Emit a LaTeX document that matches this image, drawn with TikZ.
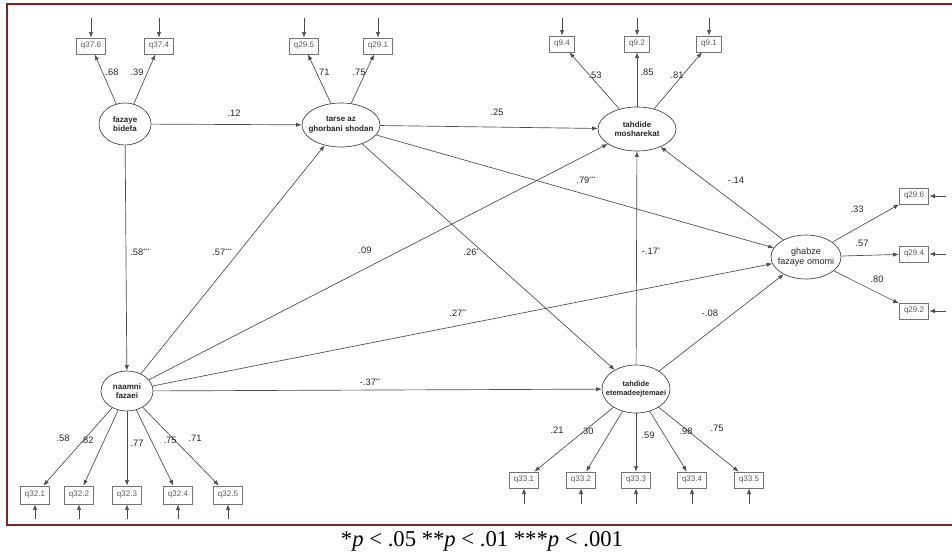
\documentclass[tikz,border=0pt]{standalone}
\usepackage{fontspec}
\setmainfont{Liberation Sans}
\newfontfamily\capfont{Liberation Serif}
\usetikzlibrary{shapes.geometric,arrows.meta}
\newcommand\sgstar[1]{\raisebox{2.6pt}{\fontsize{4}{4}\selectfont#1}}
\begin{document}
\begin{tikzpicture}[x=0.75pt,y=-0.75pt,
 lat/.style={ellipse,draw=black!75,line width=0.5pt,inner sep=0pt},
 lattext/.style={font=\fontsize{6}{7.2}\selectfont\bfseries,align=center,text=black!85},
 obs/.style={rectangle,draw=black!55,line width=0.6pt,inner xsep=3.6pt,inner ysep=0pt,minimum height=12pt,font=\fontsize{6}{7}\selectfont,text=black!65},
 arr/.style={draw=black!70,line width=0.5pt,-{Latex[length=4.2pt,width=3.2pt]}},
 errarr/.style={draw=black!70,line width=0.5pt,-{Latex[length=4.2pt,width=3.2pt]}},
 coef/.style={font=\fontsize{7}{8}\selectfont,text=black!85,inner sep=0pt},
]
\useasboundingbox (0,0) rectangle (952,553);
\fill[white] (0,0) rectangle (952,553);
% frame
\draw[line width=1.8pt,color={rgb,255:red,120;green,38;blue,38}] (953,4) -- (7,4) -- (7,525) -- (953,525);

% latent variables
\node[lat,minimum width=39pt,minimum height=31.5pt,label={[lattext]center:fazaye\\bidefa}] (fb) at (125,124) {};
\node[lat,minimum width=58.5pt,minimum height=33pt,label={[lattext]center:tarse az\\ghorbani shodan}] (tg) at (341,125) {};
\node[lat,minimum width=58.5pt,minimum height=33pt,label={[lattext]center:tahdide\\mosharekat}] (tm) at (637,129) {};
\node[lat,minimum width=52.5pt,minimum height=33pt,label={[lattext,font=\fontsize{6.8}{8}\selectfont]center:ghabze\\fazaye omomi}] (gf) at (806,257) {};
\node[lat,minimum width=39pt,minimum height=30pt,label={[lattext]center:naamni\\fazaei}] (nf) at (127,391) {};
\node[lat,minimum width=51pt,minimum height=36pt,label={[lattext,font=\fontsize{5.6}{7}\selectfont\bfseries]center:tahdide\\etemadeejtemaei}] (te) at (636,389) {};

% observed variables
\node[obs] (q376) at (91,46) {q37.6};
\node[obs] (q374) at (159,46) {q37.4};
\node[obs] (q295) at (304,46) {q29.5};
\node[obs] (q291) at (378,46) {q29.1};
\node[obs] (q94) at (562,44) {q9.4};
\node[obs] (q92) at (637,44) {q9.2};
\node[obs] (q91) at (709,44) {q9.1};
\node[obs] (q296) at (914,196) {q29.6};
\node[obs] (q294) at (914,254) {q29.4};
\node[obs] (q292) at (914,311) {q29.2};
\node[obs,minimum height=13.5pt] (q321) at (35,495) {q32.1};
\node[obs,minimum height=13.5pt] (q322) at (79,495) {q32.2};
\node[obs,minimum height=13.5pt] (q323) at (127,495) {q32.3};
\node[obs,minimum height=13.5pt] (q324) at (178,495) {q32.4};
\node[obs,minimum height=13.5pt] (q325) at (228,495) {q32.5};
\node[obs] (q331) at (524,480) {q33.1};
\node[obs] (q332) at (581,480) {q33.2};
\node[obs] (q333) at (636,480) {q33.3};
\node[obs] (q334) at (692,480) {q33.4};
\node[obs] (q335) at (749,480) {q33.5};

% error term origins
\foreach \n/\x in {q376/91,q374/159,q295/304,q291/378,q94/562,q92/637,q91/709}
  {\coordinate (e\n) at (\x,18); \draw[errarr] (e\n) -- (\n);}
\foreach \n/\y in {q296/196,q294/254,q292/311}
  {\coordinate (e\n) at (946,\y); \draw[errarr] (e\n) -- (\n);}
\foreach \n/\x in {q321/35,q322/79,q323/127,q324/178,q325/228}
  {\coordinate (e\n) at (\x,519); \draw[errarr] (e\n) -- (\n);}
\foreach \n/\x in {q331/524,q332/581,q333/636,q334/692,q335/749}
  {\coordinate (e\n) at (\x,504); \draw[errarr] (e\n) -- (\n);}

% loadings
\foreach \a/\b in {fb/q376,fb/q374,tg/q295,tg/q291,tm/q94,tm/q92,tm/q91,gf/q296,gf/q294,gf/q292,
  nf/q321,nf/q322,nf/q323,nf/q324,nf/q325,te/q331,te/q332,te/q333,te/q334,te/q335}
  {\draw[arr] (\a) -- (\b);}

% structural paths
\draw[arr] (fb) -- (tg);
\draw[arr] (fb) -- (nf);
\draw[arr] (nf) -- (tg);
\draw[arr] (nf) -- (tm);
\draw[arr] (nf) -- (gf);
\draw[arr] (nf) -- (te);
\draw[arr] (tg) -- (tm);
\draw[arr] (tg) -- (gf);
\draw[arr] (tg) -- (te);
\draw[arr] (te) -- (tm);
\draw[arr] (te) -- (gf);
\draw[arr] (gf) -- (tm);

% coefficient labels
\node[coef] (c1) at (112,72) {.68};
\node[coef] (c2) at (137,72) {.39};
\node[coef] (c3) at (323,72) {.71};
\node[coef] (c4) at (359,72) {.75};
\node[coef] (c5) at (595,75) {.53};
\node[coef] (c6) at (647,72) {.85};
\node[coef] (c7) at (677,75) {.81};
\node[coef] (c8) at (857,209) {.33};
\node[coef] (c9) at (862,243) {.57};
\node[coef] (c10) at (877,279) {.80};
\node[coef] (c11) at (234,113) {.12};
\node[coef] (c12) at (497,112) {.25};
\node[coef] (c13) at (586,180) {.79\sgstar{***}};
\node[coef] (c14) at (736,180) {-.14};
\node[coef] (c15) at (651,251) {-.17\sgstar{*}};
\node[coef] (c16) at (710,313) {-.08};
\node[coef] (c17) at (140,252) {.58\sgstar{***}};
\node[coef] (c18) at (222,252) {.57\sgstar{***}};
\node[coef] (c19) at (365,250) {.09};
\node[coef] (c20) at (471,252) {.26\sgstar{*}};
\node[coef] (c21) at (458,313) {.27\sgstar{**}};
\node[coef] (c22) at (370,382) {-.37\sgstar{**}};
\node[coef] (c23) at (63,438) {.58};
\node[coef] (c24) at (87,440) {.82};
\node[coef] (c25) at (137,443) {.77};
\node[coef] (c26) at (170,440) {.75};
\node[coef] (c27) at (195,438) {.71};
\node[coef] (c28) at (557,430) {.21};
\node[coef] (c29) at (587,431) {.30};
\node[coef] (c30) at (648,435) {.59};
\node[coef] (c31) at (686,431) {.98};
\node[coef] (c32) at (717,428) {.75};

% caption
\node[font=\capfont\fontsize{17}{20}\selectfont,inner sep=0pt] (cap) at (482,541) {*\textit{p} < .05 **\textit{p} < .01 ***\textit{p} < .001};
\end{tikzpicture}
\end{document}
